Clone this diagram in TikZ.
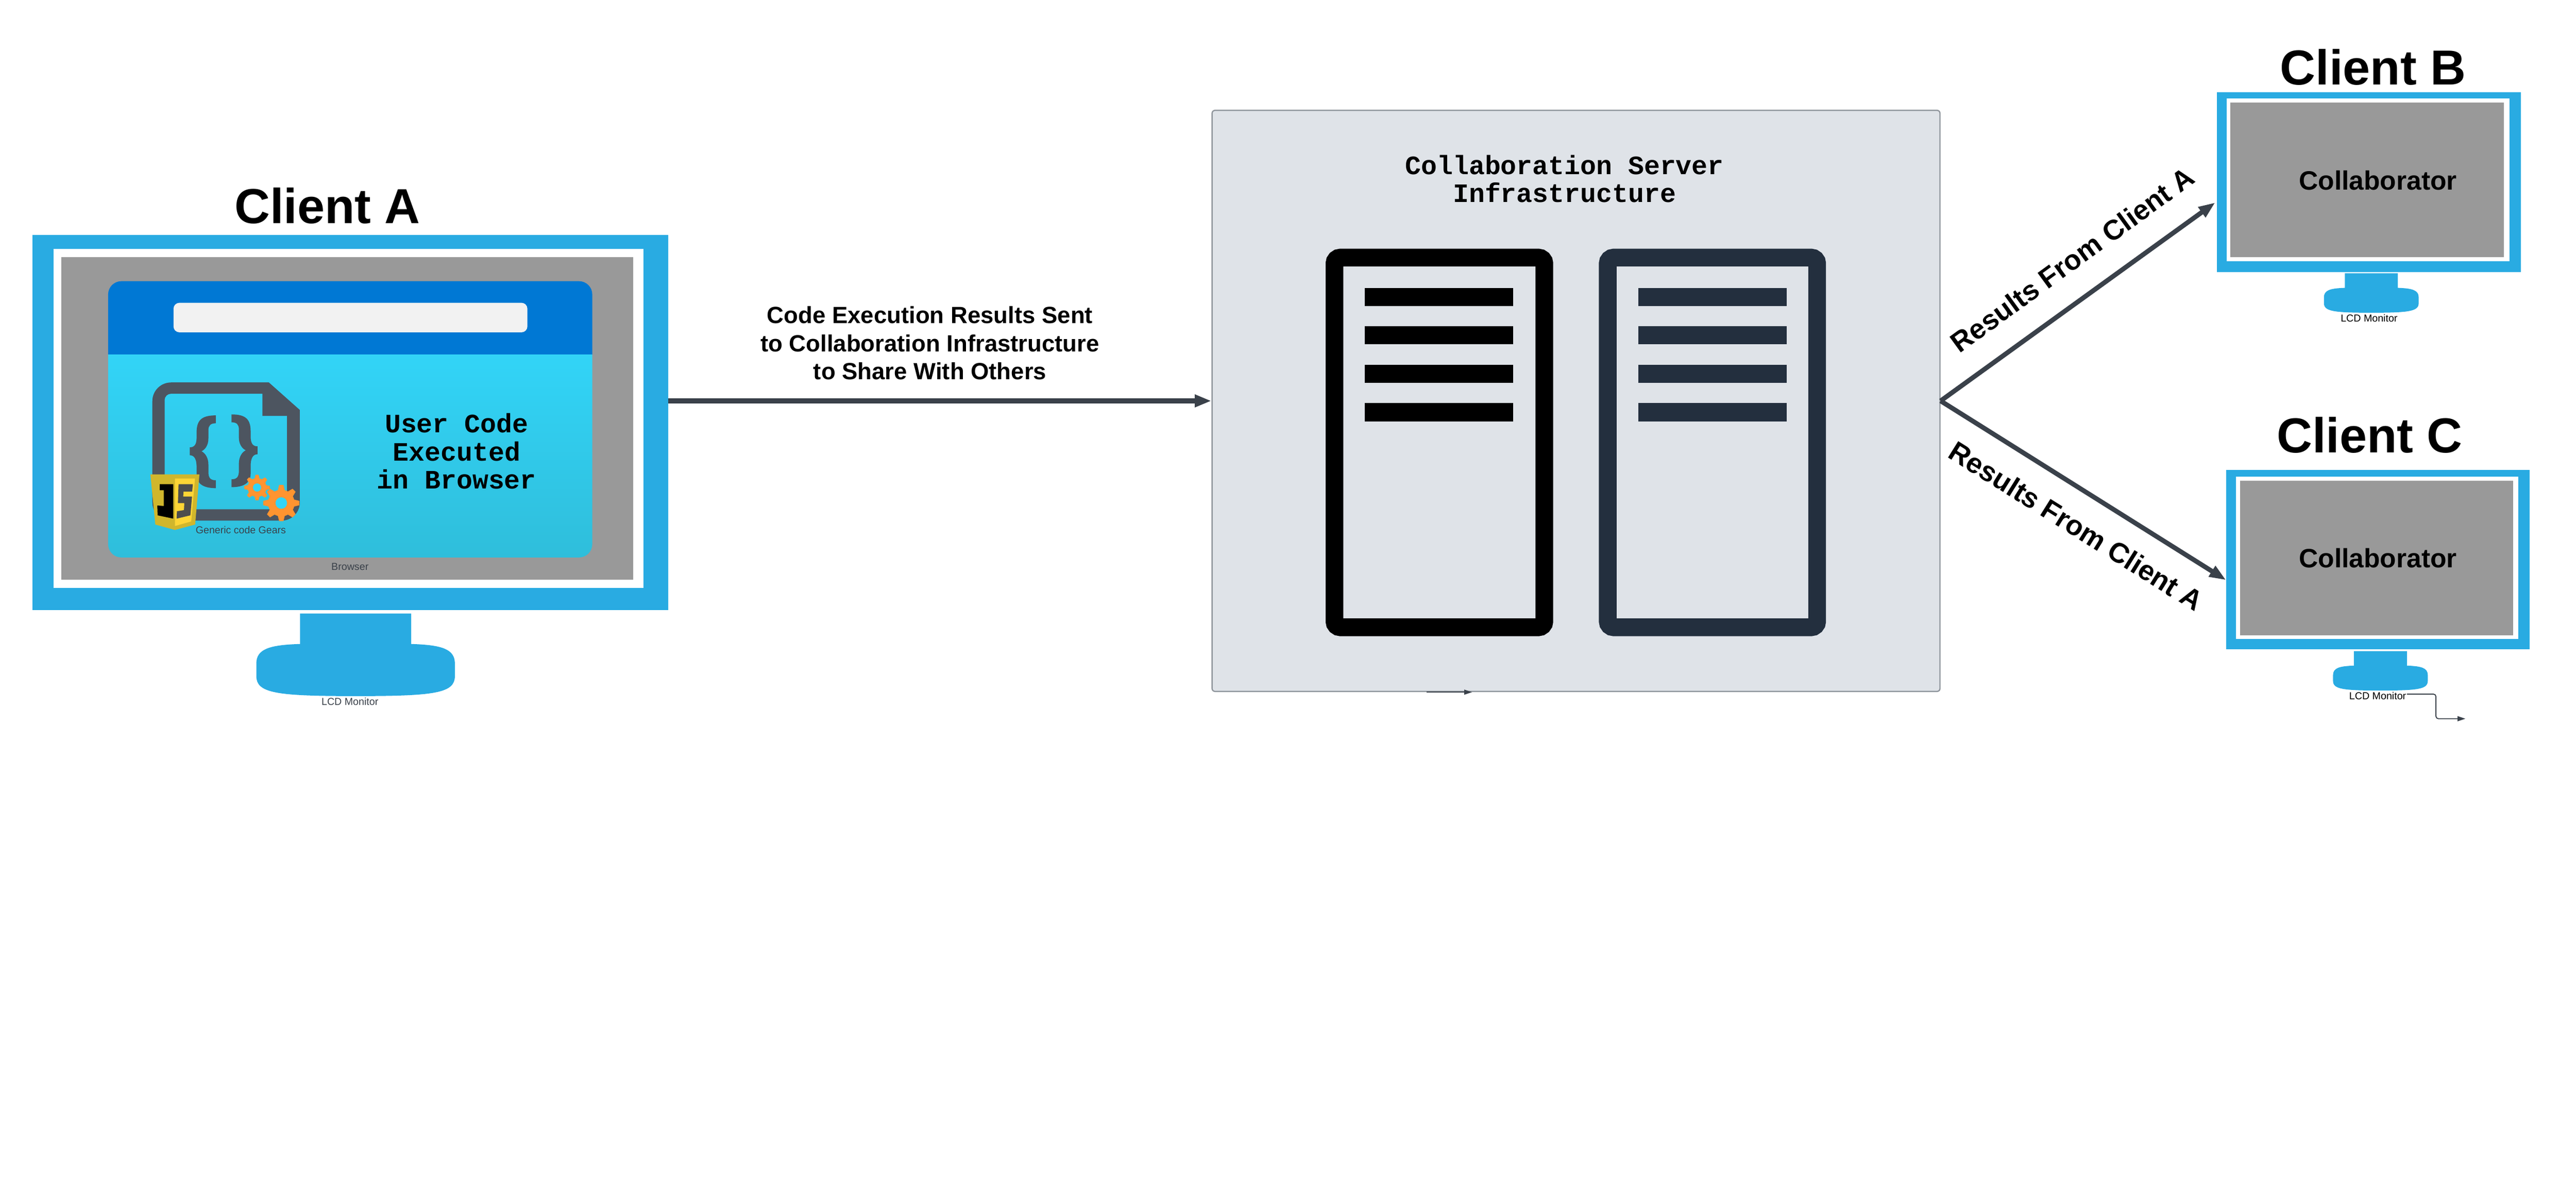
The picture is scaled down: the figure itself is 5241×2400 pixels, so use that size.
\documentclass[tikz,border=0pt]{standalone}
\usepackage{fontspec}
\setmainfont{Liberation Sans}
\setmonofont{Liberation Mono}
\usetikzlibrary{arrows.meta}

\definecolor{monitorblue}{HTML}{29ABE2}
\definecolor{screengray}{HTML}{999999}
\definecolor{browserblue}{HTML}{0078D4}
\definecolor{browsercyan}{HTML}{32D4F7}
\definecolor{browserteal}{HTML}{2FBEDB}
\definecolor{barwhite}{HTML}{F2F2F2}
\definecolor{codegray}{HTML}{4D5560}
\definecolor{gearorange}{HTML}{FF9430}
\definecolor{jsgold}{HTML}{D0B62C}
\definecolor{jsyellow}{HTML}{FDD535}
\definecolor{jsdark}{HTML}{4D4D4D}
\definecolor{serverfill}{HTML}{DFE3E8}
\definecolor{serveredge}{HTML}{8F959C}
\definecolor{servernavy}{HTML}{232F3E}
\definecolor{linkgray}{HTML}{3A414A}

\tikzset{
  monitorframe/.style={rectangle,fill=monitorblue,inner sep=0pt},
  monitorglass/.style={rectangle,fill=white,inner sep=0pt},
  monitorscreen/.style={rectangle,fill=screengray,inner sep=0pt},
  clienttitle/.style={anchor=base,inner sep=0pt,font=\fontsize{100}{100}\selectfont\bfseries},
  smalllabel/.style={anchor=base,inner sep=0pt,font=\fontsize{20.6}{24}\selectfont},
  monolabel/.style={inner sep=0pt,align=center,font=\fontsize{54}{57}\selectfont\ttfamily\bfseries},
  boldlabel/.style={inner sep=0pt,align=center,font=\fontsize{47.7}{57}\selectfont\bfseries},
  resultlabel/.style={inner sep=0pt,font=\fontsize{57}{57}\selectfont\bfseries},
  mainlink/.style={draw=linkgray,line width=9.5pt,-{Triangle[length=34pt,width=24pt]}},
  straylink/.style={draw=linkgray,line width=2pt,-{Triangle[length=16pt,width=10pt]}},
  serverrack/.style={line width=36pt,rounded corners=12pt},
  monitorstand/.pic={
    \fill[monitorblue,yscale=-1] (-113,0) -- (113,0) -- (113,62)
      .. controls (175,64) and (202,72) .. (202,102) -- (202,127)
      .. controls (202,162) and (162,168) .. (0,168)
      .. controls (-162,168) and (-202,162) .. (-202,127) -- (-202,102)
      .. controls (-202,72) and (-175,64) .. (-113,62) -- cycle;
  },
  gearwheel/.pic={
    \fill[gearorange] (0,0) circle[radius=0.74];
    \foreach \a in {0,45,...,315}
      \fill[gearorange,rotate=\a] (-0.2,0.68) -- (-0.12,1) -- (0.12,1) -- (0.2,0.68) -- cycle;
    \fill[browsercyan] (0,0) circle[radius=0.32];
  }
}
\newcommand{\bracepath}{(439,845) .. controls (410,845) and (400,855) .. (400,880) -- (400,890)
  .. controls (400,905) and (395,910) .. (386,910) -- (386,926)
  .. controls (396,926) and (400,935) .. (400,950) -- (400,965)
  .. controls (400,985) and (415,993) .. (439,993) -- (439,977)
  .. controls (428,977) and (424,972) .. (424,960) -- (424,945)
  .. controls (424,932) and (418,922) .. (410,918)
  .. controls (418,914) and (424,905) .. (424,892) -- (424,875)
  .. controls (424,866) and (428,861) .. (439,861) -- cycle}

\begin{document}
\begin{tikzpicture}[x=1pt,y=1pt,yscale=-1,xscale=1]
\useasboundingbox (0,0) rectangle (5241,2400);

% Client A monitor
\node [monitorframe,minimum width=1293,minimum height=763] (clientA) at (712.5,859.5) {};
\node [monitorglass,minimum width=1200,minimum height=690] (glassA) at (709,851) {};
\node [monitorscreen,minimum width=1163,minimum height=656] (screenA) at (706.5,851) {};
\pic at (723.5,1248) {monitorstand};
\draw (712,1434) node [smalllabel,text=linkgray] (lcdA) {LCD Monitor};
\draw (666,454) node [clienttitle] (titleA) {Client A};

% Browser window
\fill [browserblue,rounded corners=27pt] (220,721) -- (220,572) -- (1205,572) -- (1205,721);
\shade [top color=browsercyan,middle color=browsercyan,bottom color=browserteal,rounded corners=27pt] (220,721) -- (220,1134) -- (1205,1134) -- (1205,721);
\fill [barwhite,rounded corners=12pt] (353,616) rectangle (1073,676);
\draw (712,1160) node [smalllabel,text=linkgray] (labelBrowser) {Browser};

% Code file icon
\fill [codegray,even odd rule] (348,778) -- (547,778) -- (610,834) -- (610,1022)
  .. controls (610,1043) and (593,1059) .. (573,1059) -- (348,1059)
  .. controls (327,1059) and (310,1043) .. (310,1022) -- (310,816)
  .. controls (310,795) and (327,778) .. (348,778) -- cycle
  (348,801) -- (534,801) -- (534,846) -- (584,846) -- (584,1036) -- (335,1036) -- (335,814)
  .. controls (335,806) and (341,801) .. (348,801) -- cycle;
\fill [codegray] \bracepath;
\begin{scope}[shift={(910,-2)},xscale=-1]
\fill [codegray] \bracepath;
\end{scope}
\pic [scale=26] at (523,991.7) {gearwheel};
\pic [scale=36.7] at (572.3,1023.3) {gearwheel};

% JS badge
\fill [jsgold] (306,965) -- (405.7,965) -- (397,1067) -- (356,1078) -- (316,1067) -- cycle;
\fill [jsyellow] (356,973.3) -- (396.7,973.3) -- (389,1060.7) -- (356,1070) -- cycle;
\fill [black] (325,985) -- (352.7,985) -- (352.7,1055) -- (320.7,1048.3) -- (320,1028.3) -- (333.3,1029.3) -- (333.3,997.3) -- (325,997.3) -- cycle;
\fill [jsdark] (363.3,985) -- (392.3,985) -- (391,1000) -- (373.3,1000) -- (372.7,1010) -- (390.7,1010) -- (387.3,1048.3) -- (359.3,1055) -- (360,1040) -- (374.3,1037.7) -- (375,1023.3) -- (362,1023.3) -- cycle;
\draw (490,1085) node [anchor=base,inner sep=0pt,text=linkgray,font=\fontsize{20.5}{24}\selectfont] (labelGears) {Generic code Gears};

% Text Node
\draw (929,918) node [monolabel] (labelUser) {User Code\\Executed\\in Browser};

% Server box
\node [rectangle,draw=serveredge,line width=2.5pt,fill=serverfill,rounded corners=6pt,inner sep=0pt,minimum width=1481,minimum height=1182] (serverbox) at (3206.5,815.5) {};
\draw (3183,364) node [monolabel] (labelServer) {Collaboration Server\\Infrastructure};
\draw [serverrack] (2715,524) rectangle (3142,1276);
\draw [serverrack,servernavy] (3271,524) rectangle (3697,1276);
\foreach \y in {586,663,742,820} {
  \fill (2776.5,\y) rectangle (3078.6,\y+37);
  \fill [servernavy] (3333,\y) rectangle (3635,\y+37);
}

% Client B monitor
\node [monitorframe,minimum width=619,minimum height=365] (clientB) at (4819.5,370.5) {};
\node [monitorglass,minimum width=575,minimum height=331] (glassB) at (4818,366) {};
\node [monitorscreen,minimum width=556,minimum height=314] (screenB) at (4816,366) {};
\pic [scale=0.477] at (4824.5,556) {monitorstand};
\draw (4820,655) node [smalllabel] (lcdB) {LCD Monitor};
\draw (4828,172) node [clienttitle] (titleB) {Client B};
\draw (4838,386) node [anchor=base,inner sep=0pt,font=\fontsize{54}{57}\selectfont\bfseries] (labelB) {Collaborator};

% Client C monitor
\node [monitorframe,minimum width=618,minimum height=365] (clientC) at (4838,1138.5) {};
\node [monitorglass,minimum width=575,minimum height=330] (glassC) at (4836.5,1135) {};
\node [monitorscreen,minimum width=556,minimum height=314] (screenC) at (4835,1135) {};
\pic [scale=0.477] at (4843,1324.5) {monitorstand};
\draw (4837.5,1423) node [smalllabel] (lcdC) {LCD Monitor};
\draw (4821,921) node [clienttitle] (titleC) {Client C};
\draw (4838,1155) node [anchor=base,inner sep=0pt,font=\fontsize{54}{57}\selectfont\bfseries] (labelC) {Collaborator};

% Links
\coordinate (entryB) at (4507,412);
\coordinate (entryC) at (4529,1180);
\draw [mainlink] (clientA.east |- serverbox.west) -- (serverbox.west);
\draw [mainlink] (serverbox.east) -- (entryB);
\draw [mainlink] (serverbox.east) -- (entryC);
\draw (1892,698) node [boldlabel] (labelSent) {Code Execution Results Sent\\to Collaboration Infrastructure\\to Share With Others};
\draw (4216,528) node [resultlabel,rotate=36] (labelResultB) {Results From Client A};
\draw (4224,1070) node [resultlabel,rotate=-32] (labelResultC) {Results From Client A};

% Loose connectors
\coordinate (strayA) at (2902,1408);
\coordinate (strayB) at (2995,1408);
\coordinate (strayC) at (4897,1412);
\coordinate (strayD) at (5016,1462);
\draw [straylink] (strayA) -- (strayB);
\draw [straylink,rounded corners=5pt] (strayC) -| (4956,1462) -- (strayD);

\end{tikzpicture}
\end{document}
